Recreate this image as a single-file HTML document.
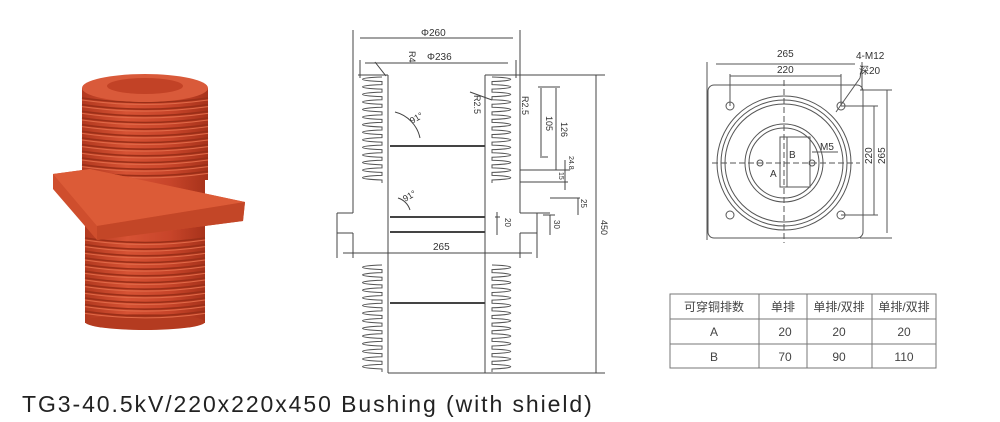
<!DOCTYPE html>
<html><head><meta charset="utf-8"><style>
html,body{margin:0;padding:0;background:#fff;width:1000px;height:422px;overflow:hidden}
svg{display:block}
text{font-family:"Liberation Sans","Noto Sans CJK SC",sans-serif}
</style></head><body>
<svg id="s" width="1000" height="422" viewBox="0 0 1000 422" xmlns="http://www.w3.org/2000/svg">
<defs>
<linearGradient id="body" x1="0" x2="1" y1="0" y2="0">
<stop offset="0" stop-color="#b2391f"/><stop offset="0.35" stop-color="#d65234"/><stop offset="0.7" stop-color="#c8452a"/><stop offset="1" stop-color="#a8331b"/>
</linearGradient>
</defs>
<g id="photo">
<rect x="85" y="170" width="120" height="153" fill="url(#body)"/>
<ellipse cx="145" cy="322" rx="60" ry="8" fill="#b43b20"/>
<rect x="82" y="88" width="126" height="92" fill="url(#body)"/>
<g id="ribs"></g>
<polygon points="53,174 90,169 245,202 243,221 97,240 53,189" fill="#cf4e2d"/>
<polygon points="53,174 90,169 245,202 97,226" fill="#dc5b37"/>
<polygon points="97,226 245,202 243,221 97,240" fill="#c34627"/>
<ellipse cx="145" cy="88" rx="63" ry="14" fill="#d95a3a"/>
<ellipse cx="145" cy="86" rx="38" ry="8" fill="#c24226"/>
</g>
<g stroke="#444" stroke-width="1" fill="none">
<line x1="353" y1="30" x2="353" y2="213"/>
<line x1="520" y1="30" x2="520" y2="213"/>
<line x1="360" y1="38" x2="513" y2="38"/>
<line x1="365" y1="63" x2="508" y2="63"/>
<line x1="360" y1="60" x2="360" y2="78"/>
<line x1="516" y1="60" x2="516" y2="78"/>
<line x1="388" y1="75" x2="388" y2="373"/>
<line x1="485" y1="75" x2="485" y2="373"/>
<line x1="358" y1="75" x2="388" y2="75"/>
<line x1="485" y1="75" x2="605" y2="75"/>
<line x1="390" y1="146" x2="485" y2="146" stroke-width="2"/>
<line x1="390" y1="217" x2="485" y2="217" stroke-width="2"/>
<line x1="390" y1="232" x2="485" y2="232" stroke-width="2"/>
<line x1="390" y1="303" x2="485" y2="303" stroke-width="2"/>
<line x1="388" y1="373" x2="605" y2="373"/>
<line x1="337" y1="213" x2="353" y2="213"/><line x1="337" y1="213" x2="337" y2="258"/>
<line x1="337" y1="233" x2="353" y2="233"/><line x1="353" y1="233" x2="353" y2="258"/>
<line x1="520" y1="213" x2="550" y2="213"/><line x1="520" y1="193" x2="520" y2="213"/>
<line x1="537" y1="213" x2="537" y2="258"/><line x1="520" y1="233" x2="537" y2="233"/><line x1="520" y1="233" x2="520" y2="258"/>
<line x1="343" y1="253" x2="532" y2="253"/>
<line x1="596" y1="75" x2="596" y2="373"/>
<line x1="538" y1="87" x2="560" y2="87"/><line x1="540" y1="157" x2="548" y2="157"/>
<line x1="541" y1="88" x2="541" y2="156"/><line x1="556" y1="88" x2="556" y2="170"/>
<line x1="520" y1="170" x2="570" y2="170"/><line x1="520" y1="182" x2="568" y2="182"/>
<line x1="565" y1="160" x2="565" y2="190"/><line x1="550" y1="198" x2="580" y2="198"/>
<line x1="578" y1="198" x2="578" y2="215"/><line x1="543" y1="215" x2="555" y2="215"/>
<line x1="550" y1="215" x2="550" y2="235"/>
<line x1="495" y1="217" x2="500" y2="217"/><line x1="497" y1="212" x2="497" y2="235"/>
<line x1="375" y1="62" x2="386" y2="76"/>
<line x1="470" y1="92" x2="492" y2="100"/>
<path d="M395 112 A34 34 0 0 1 420 138"/>
<path d="M398 198 A18 18 0 0 1 410 210"/>
<g id="sheds" stroke="#555"></g>
</g>
<g font-size="9" fill="#333">
<text x="421" y="36" font-size="10">Φ260</text>
<text x="427" y="60" font-size="10">Φ236</text>
<text x="408" y="58" transform="rotate(90 412 55)">R4</text>
<text x="412" y="124" transform="rotate(-30 412 124)">91°</text>
<text x="405" y="202" transform="rotate(-30 405 202)">91°</text>
<text x="433" y="250" font-size="10">265</text>
<text x="472" y="97" transform="rotate(90 474 97)">R2.5</text>
<text x="520" y="98" transform="rotate(90 522 98)">R2.5</text>
<text x="544" y="118" transform="rotate(90 546 118)">105</text>
<text x="559" y="124" transform="rotate(90 561 124)">126</text>
<text x="567" y="158" font-size="7" transform="rotate(90 569 158)">24.8</text>
<text x="557" y="174" font-size="7" transform="rotate(90 559 174)">15</text>
<text x="579" y="201" font-size="8" transform="rotate(90 581 201)">25</text>
<text x="503" y="220" font-size="8" transform="rotate(90 505 220)">20</text>
<text x="552" y="222" font-size="8" transform="rotate(90 554 222)">30</text>
<text x="599" y="222" transform="rotate(90 601 222)">450</text>
</g>
<g stroke="#555" fill="none" stroke-width="1">
<rect x="708" y="85" width="155" height="153" rx="6"/>
<circle cx="784" cy="163" r="67"/><circle cx="784" cy="163" r="63"/><circle cx="784" cy="163" r="59"/>
<circle cx="784" cy="163" r="39"/><circle cx="784" cy="163" r="35"/>
<rect x="780" y="137" width="30" height="50"/><line x1="787" y1="137" x2="787" y2="187"/>
<line x1="712" y1="163" x2="860" y2="163" stroke-dasharray="6,3"/>
<line x1="784" y1="80" x2="784" y2="243" stroke-dasharray="6,3"/>
<circle cx="730" cy="106" r="4"/><circle cx="841" cy="106" r="4"/><circle cx="730" cy="215" r="4"/><circle cx="841" cy="215" r="4"/>
<circle cx="760" cy="163" r="3"/><circle cx="812" cy="163" r="3"/>
<line x1="707" y1="62" x2="707" y2="240"/><line x1="862" y1="62" x2="862" y2="90"/>
<line x1="716" y1="64" x2="855" y2="64"/><line x1="730" y1="76" x2="841" y2="76"/>
<line x1="730" y1="74" x2="730" y2="106"/><line x1="841" y1="74" x2="841" y2="106"/>
<line x1="841" y1="106" x2="878" y2="106"/><line x1="841" y1="215" x2="878" y2="215"/>
<line x1="874" y1="106" x2="874" y2="215"/>
<line x1="860" y1="90" x2="892" y2="90"/><line x1="860" y1="238" x2="892" y2="238"/>
<line x1="887" y1="90" x2="887" y2="233"/>
<line x1="836" y1="112" x2="860" y2="78"/><line x1="860" y1="78" x2="862" y2="66"/>
<line x1="812" y1="152" x2="838" y2="152"/>
</g>
<g font-size="10" fill="#333">
<text x="777" y="57">265</text><text x="777" y="73">220</text>
<text x="856" y="59">4-M12</text><text x="859" y="74">深20</text>
<text x="820" y="150">M5</text><text x="789" y="158">B</text><text x="770" y="177">A</text>
<text x="868" y="160" transform="rotate(-90 872 160)">220</text>
<text x="881" y="160" transform="rotate(-90 885 160)">265</text>
</g>
<g stroke="#777" fill="none" stroke-width="1">
<rect x="670" y="294" width="266" height="74"/>
<line x1="670" y1="319" x2="936" y2="319"/><line x1="670" y1="344" x2="936" y2="344"/>
<line x1="759" y1="294" x2="759" y2="368"/><line x1="807" y1="294" x2="807" y2="368"/><line x1="872" y1="294" x2="872" y2="368"/>
</g>
<g font-size="12" fill="#444" text-anchor="middle">
<text x="714" y="311">可穿铜排数</text><text x="783" y="311">单排</text><text x="839" y="311">单排/双排</text><text x="904" y="311">单排/双排</text>
<text x="714" y="336">A</text><text x="785" y="336">20</text><text x="839" y="336">20</text><text x="904" y="336">20</text>
<text x="714" y="361">B</text><text x="785" y="361">70</text><text x="839" y="361">90</text><text x="904" y="361">110</text>
</g>
<text x="22" y="412" font-size="23" fill="#222" letter-spacing="2.2" textLength="572" lengthAdjust="spacing">TG3-40.5kV/220x220x450 Bushing (with shield)</text>
</svg>
<script>
(function(){
var ns="http://www.w3.org/2000/svg";
function zig(g,x1,x2,y1,y2,n){
 var d="M"+x2+" "+y1, p=(y2-y1)/n;
 for(var i=0;i<n;i++){var y=y1+i*p;
  d+=" C"+x1+" "+(y+p*0.1)+" "+x1+" "+(y+p*0.5)+" "+x2+" "+(y+p*0.6)+" L"+x2+" "+(y+p);}
 var e=document.createElementNS(ns,"path");e.setAttribute("d",d);g.appendChild(e);}
var s=document.getElementById("sheds");
zig(s,356,382,77,183,14);
zig(s,517,492,77,183,14);
zig(s,356,382,265,372,14);
zig(s,517,492,265,372,14);
var r=document.getElementById("ribs");
function ribs(x1,x2,y1,y2,n){var p=(y2-y1)/n;for(var i=0;i<n;i++){var y=y1+i*p;
 var e=document.createElementNS(ns,"path");
 e.setAttribute("d","M"+x1+" "+y+" Q"+((x1+x2)/2)+" "+(y+9)+" "+x2+" "+y);
 e.setAttribute("stroke","#9a2f18");e.setAttribute("stroke-width","1.6");e.setAttribute("fill","none");r.appendChild(e);
 var f=document.createElementNS(ns,"path");
 f.setAttribute("d","M"+x1+" "+(y+2)+" Q"+((x1+x2)/2)+" "+(y+11)+" "+x2+" "+(y+2));
 f.setAttribute("stroke","#e06a48");f.setAttribute("stroke-width","1");f.setAttribute("fill","none");r.appendChild(f);}}
ribs(82,208,98,178,12);
ribs(85,205,238,318,12);
})();
</script>
</body></html>
